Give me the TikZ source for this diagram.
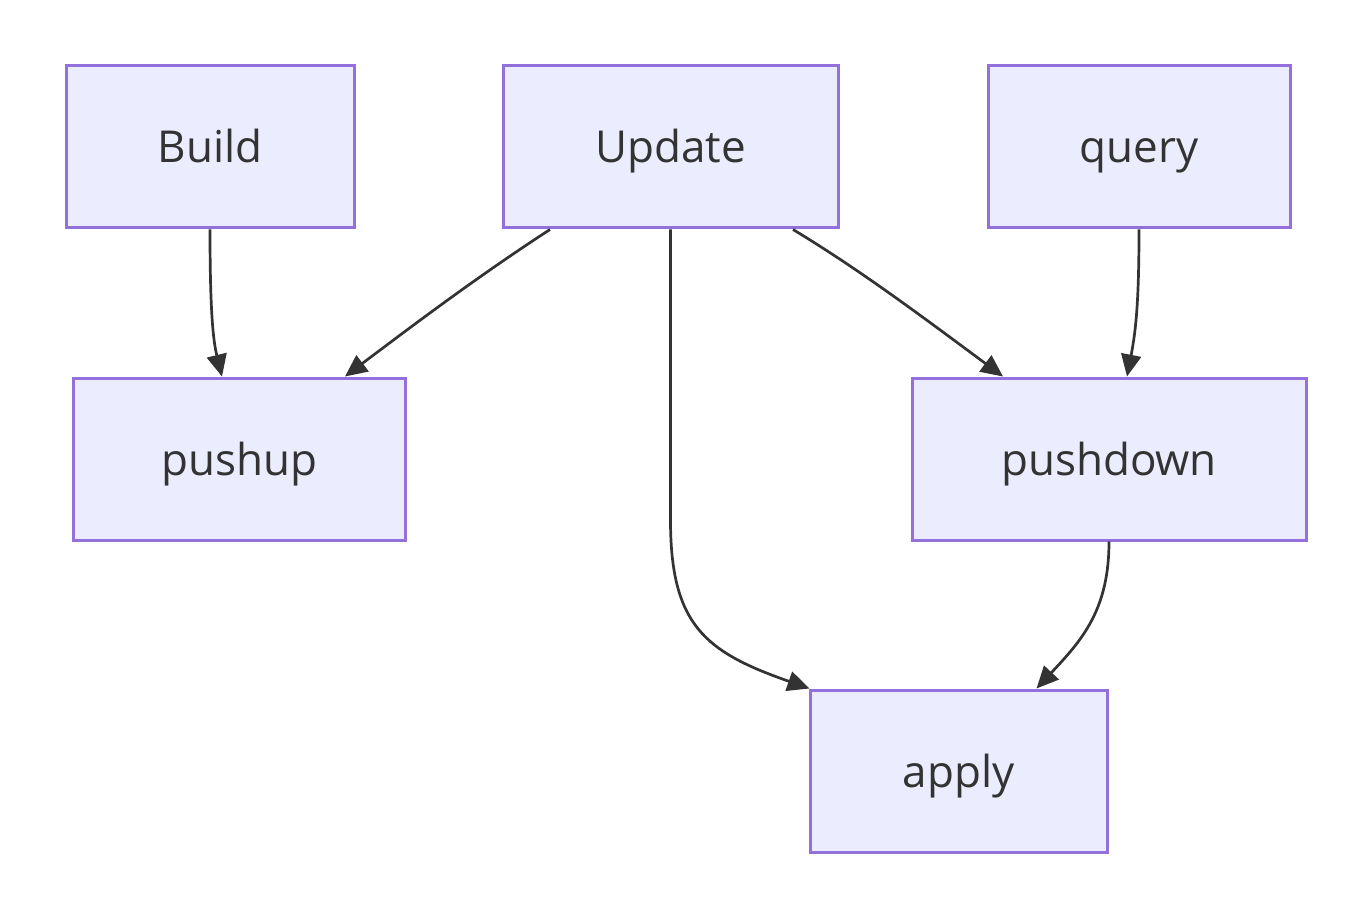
\documentclass[tikz,border=0pt]{standalone}
\usepackage{fontspec}
\setmainfont{Open Sans}
\usetikzlibrary{arrows.meta}
\definecolor{boxfill}{HTML}{ECECFF}
\definecolor{boxline}{HTML}{9370DB}
\definecolor{ink}{HTML}{333333}
\tikzset{
  box/.style={draw=boxline, fill=boxfill, line width=3pt, inner sep=0pt,
    text=ink, text height=40pt, text depth=8pt, font=\fontsize{44}{52}\selectfont},
  link/.style={draw=ink, line width=2.7pt, -{Triangle[length=22pt,width=20pt]}},
}
\begin{document}
\begin{tikzpicture}[x=1pt,y=-1pt]
\useasboundingbox (0,0) rectangle (1371,917);
\node[box, minimum width=288pt, minimum height=162pt] (Build) at (210,147) {Build};
\node[box, minimum width=335pt, minimum height=162pt] (Update) at (670.5,147) {Update};
\node[box, minimum width=302pt, minimum height=162pt] (query) at (1139,147) {query};
\node[box, minimum width=332pt, minimum height=162pt] (pushup) at (239,459) {pushup};
\node[box, minimum width=394pt, minimum height=162pt] (pushdown) at (1109,459) {pushdown};
\node[box, minimum width=297pt, minimum height=162pt] (apply) at (958.5,771) {apply};

\draw[link] (Build.south) .. controls (210,310) and (213,340) .. ([xshift=-17pt]pushup.north);
\draw[link] ([xshift=-120.5pt]Update.south) .. controls (480,275) and (420,320) .. ([xshift=106pt]pushup.north);
\draw[link] (Update.south) -- (670.5,520) .. controls (670.5,625) and (705,652) .. ([xshift=1pt]apply.north west);
\draw[link] ([xshift=122.5pt]Update.south) .. controls (860,270) and (920,315) .. ([xshift=-106pt]pushdown.north);
\draw[link] (query.south) .. controls (1139,300) and (1136,330) .. ([xshift=18pt]pushdown.north);
\draw[link] (pushdown.south) .. controls (1109,610) and (1082,640) .. ([xshift=78pt]apply.north);
\end{tikzpicture}
\end{document}
